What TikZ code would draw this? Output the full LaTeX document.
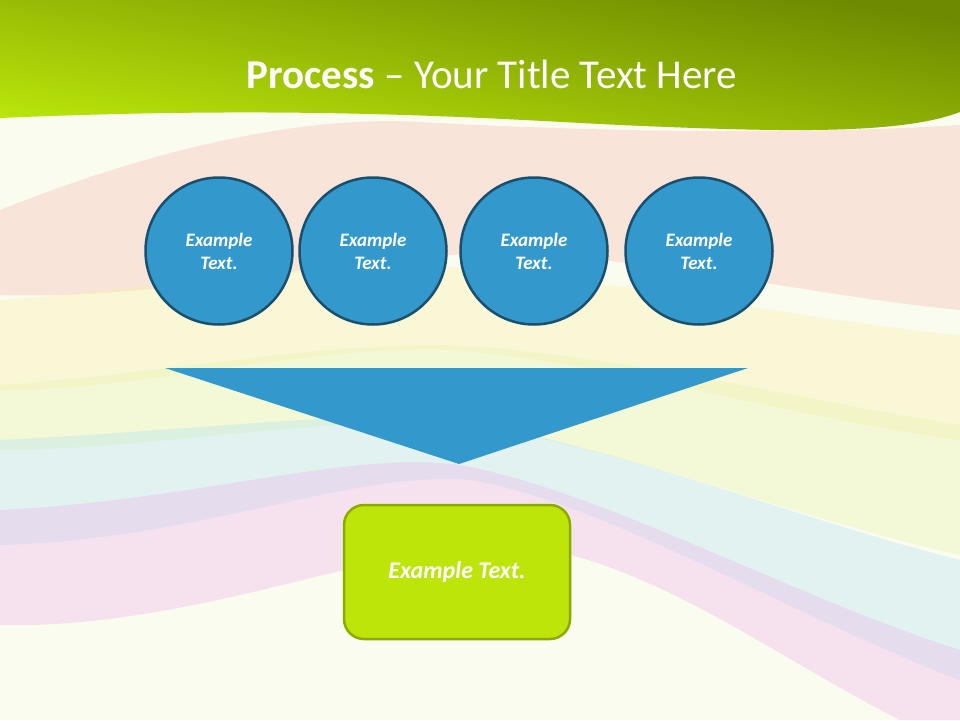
\documentclass[tikz,border=0pt]{standalone}
\usepackage{fontspec}
\setmainfont{Carlito}
\definecolor{stepblue}{HTML}{3399CC}
\definecolor{stepedge}{HTML}{1A4F6E}
\definecolor{limefill}{HTML}{BDE50A}
\definecolor{limeedge}{HTML}{8DAA00}
\definecolor{bandtop}{HTML}{6E8A00}
\definecolor{bandlow}{HTML}{B9E40A}
\definecolor{paper}{HTML}{FBFCF0}
\tikzset{
  stepcircle/.style={circle, draw=stepedge, fill=stepblue, line width=2.5pt,
    minimum size=147pt, inner sep=0pt, text=white, align=center,
    font=\fontsize{19}{23}\selectfont\bfseries\itshape},
  resultbox/.style={rectangle, rounded corners=20pt, draw=limeedge, fill=limefill,
    line width=2.5pt, minimum width=226pt, minimum height=134pt, text=white,
    font=\fontsize{24}{28}\selectfont\bfseries\itshape},
  wave/.style={opacity=0.38}
}
\begin{document}
\begin{tikzpicture}[x=1pt, y=-1pt]
  \useasboundingbox (0,0) rectangle (960,720);
  % background
  \fill[paper] (0,0) rectangle (960,720);
  \fill[wave, fill={rgb,255:red,244;green,190;blue,178}] (0,210) .. controls (150,150) and (300,115) .. (420,122)
    .. controls (600,132) and (800,135) .. (960,125) -- (960,310)
    .. controls (800,295) and (600,245) .. (450,255) .. controls (300,265) and (150,300) .. (0,295) -- cycle;
  \fill[wave, fill={rgb,255:red,250;green,240;blue,175}] (0,300) .. controls (150,290) and (300,260) .. (420,265)
    .. controls (600,275) and (800,320) .. (960,335) -- (960,440)
    .. controls (800,420) and (600,360) .. (450,350) .. controls (300,345) and (150,390) .. (0,390) -- cycle;
  \fill[wave, fill={rgb,255:red,232;green,244;blue,175}] (0,385) .. controls (150,375) and (300,345) .. (440,345)
    .. controls (600,350) and (800,400) .. (960,425) -- (960,555)
    .. controls (800,520) and (600,440) .. (460,425) .. controls (320,415) and (150,450) .. (0,450) -- cycle;
  \fill[wave, fill={rgb,255:red,185;green,228;blue,240}] (0,440) .. controls (200,430) and (350,410) .. (450,420)
    .. controls (600,440) and (800,520) .. (960,560) -- (960,680)
    .. controls (800,620) and (600,500) .. (470,480) .. controls (350,470) and (200,540) .. (0,545) -- cycle;
  \fill[wave, fill={rgb,255:red,236;green,185;blue,236}] (0,510) .. controls (200,500) and (350,450) .. (460,465)
    .. controls (600,490) and (800,600) .. (960,650) -- (960,720) -- (900,720)
    .. controls (780,660) and (650,560) .. (520,545) .. controls (400,535) and (200,630) .. (0,625) -- cycle;
  % title band
  \shade[top color=bandtop, bottom color=bandlow, shading angle=-10]
    (0,0) -- (960,0) -- (960,112) .. controls (900,135) and (780,132) .. (620,125)
    .. controls (480,118) and (300,105) .. (0,118) -- cycle;
  \node[text=white, font=\fontsize{41}{48}\selectfont] (title) at (492,74) {\textbf{Process} -- Your Title Text Here};
  % steps
  \node[stepcircle] (s1) at (219,251) {Example\\Text.};
  \node[stepcircle] (s2) at (373,251) {Example\\Text.};
  \node[stepcircle] (s3) at (534,251) {Example\\Text.};
  \node[stepcircle] (s4) at (699,251) {Example\\Text.};
  \fill[stepblue] (165,368) -- (748,368) -- (459,464) -- cycle;
  \node[resultbox] (result) at (457,572) {Example Text.};
\end{tikzpicture}
\end{document}
